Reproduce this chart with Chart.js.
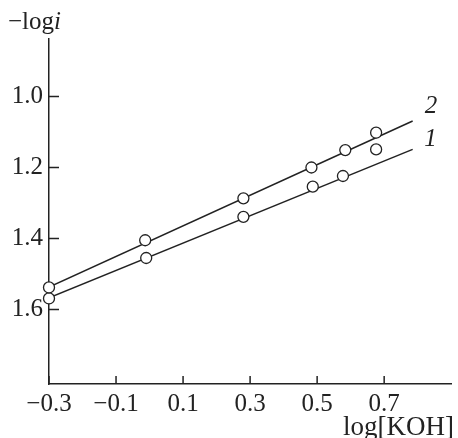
<!DOCTYPE html>
<html>
<head>
<meta charset="utf-8">
<script src="https://cdn.jsdelivr.net/npm/chart.js@4.4.1/dist/chart.umd.min.js"></script>
<style>
  body { margin: 0; background: #fff; }
  canvas { display: block; }
</style>
</head>
<body>
<canvas id="myChart" width="458" height="438"></canvas>
<script>
"use strict";

// data
const logKOH1 = [-0.3, -0.01, 0.28, 0.487, 0.577, 0.676];
const logi1 = [1.569, 1.455, 1.339, 1.254, 1.224, 1.149];
const logKOH2 = [-0.3, -0.013, 0.28, 0.483, 0.584, 0.676];
const logi2 = [1.538, 1.405, 1.287, 1.200, 1.151, 1.102];
// fitted lines (end points)
const fitX = [-0.3, 0.785];
const fit1 = [1.567, 1.149];
const fit2 = [1.537, 1.069];

const xTicks = [-0.3, -0.1, 0.1, 0.3, 0.5, 0.7];
const yTicks = [1.0, 1.2, 1.4, 1.6];

const ink = "#222";
const font = "Liberation Serif";

function pts(xs, ys) {
  return xs.map(function(x, i) { return { x: x, y: ys[i] }; });
}

// inward ticks + texts
const extras = {
  id: "extras",
  afterDraw: function(chart) {
    const ctx = chart.ctx;
    const xs = chart.scales.x;
    const ys = chart.scales.y;
    const area = chart.chartArea;
    ctx.save();
    ctx.strokeStyle = ink;
    ctx.lineWidth = 1.5;
    ctx.beginPath();
    xTicks.forEach(function(v) {
      const px = xs.getPixelForValue(v);
      ctx.moveTo(px, area.bottom);
      ctx.lineTo(px, area.bottom - 8);
    });
    yTicks.forEach(function(v) {
      const py = ys.getPixelForValue(v);
      ctx.moveTo(area.left, py);
      ctx.lineTo(area.left + 10, py);
    });
    ctx.stroke();

    ctx.fillStyle = ink;
    ctx.textBaseline = "alphabetic";
    ctx.textAlign = "left";
    // y title
    ctx.font = "25px '" + font + "'";
    ctx.fillText("−log", 8, 29);
    const w = ctx.measureText("−log").width;
    ctx.font = "italic 25px '" + font + "'";
    ctx.fillText("i", 8 + w, 29);
    // x title
    ctx.font = "27px '" + font + "'";
    ctx.fillText("log[KOH]", 343, 435);
    // curve labels
    ctx.font = "italic 25px '" + font + "'";
    ctx.textAlign = "center";
    ctx.textBaseline = "middle";
    ctx.fillText("2", xs.getPixelForValue(0.84), ys.getPixelForValue(1.028));
    ctx.fillText("1", xs.getPixelForValue(0.838), ys.getPixelForValue(1.122));
    ctx.restore();
  }
};

const ctx = document.getElementById("myChart").getContext("2d");
new Chart(ctx, {
  type: "scatter",
  data: {
    datasets: [
      { data: pts(fitX, fit2), showLine: true, pointRadius: 0, borderColor: ink, borderWidth: 1.5, order: 2 },
      { data: pts(fitX, fit1), showLine: true, pointRadius: 0, borderColor: ink, borderWidth: 1.5, order: 2 },
      { data: pts(logKOH2, logi2), pointRadius: 5.5, pointBackgroundColor: "#fff", pointBorderColor: ink, pointBorderWidth: 1.3, clip: false, order: 1 },
      { data: pts(logKOH1, logi1), pointRadius: 5.5, pointBackgroundColor: "#fff", pointBorderColor: ink, pointBorderWidth: 1.3, clip: false, order: 1 }
    ]
  },
  options: {
    responsive: false,
    animation: false,
    layout: { padding: { top: 39, right: 2, left: 0, bottom: 0 } },
    plugins: { legend: { display: false }, tooltip: { enabled: false } },
    scales: {
      x: {
        type: "linear",
        min: -0.3,
        max: 0.9,
        afterBuildTicks: function(scale) { scale.ticks = xTicks.map(function(v) { return { value: v }; }); },
        afterFit: function(scale) { scale.height = 54; },
        grid: { drawOnChartArea: false, drawTicks: false },
        border: { display: true, color: ink, width: 1.5 },
        ticks: {
          padding: 5,
          color: ink,
          font: { family: font, size: 25 },
          callback: function(v) { return v < 0 ? "−" + Math.abs(v).toFixed(1) : v.toFixed(1); }
        }
      },
      y: {
        type: "linear",
        reverse: true,
        min: 0.838,
        max: 1.81,
        afterBuildTicks: function(scale) { scale.ticks = yTicks.map(function(v) { return { value: v }; }); },
        afterFit: function(scale) { scale.width = 49; },
        grid: { drawOnChartArea: false, drawTicks: false },
        border: { display: true, color: ink, width: 1.5 },
        ticks: {
          padding: 6,
          color: ink,
          font: { family: font, size: 25 },
          callback: function(v) { return v.toFixed(1); }
        }
      }
    }
  },
  plugins: [extras]
});
</script>
</body>
</html>
